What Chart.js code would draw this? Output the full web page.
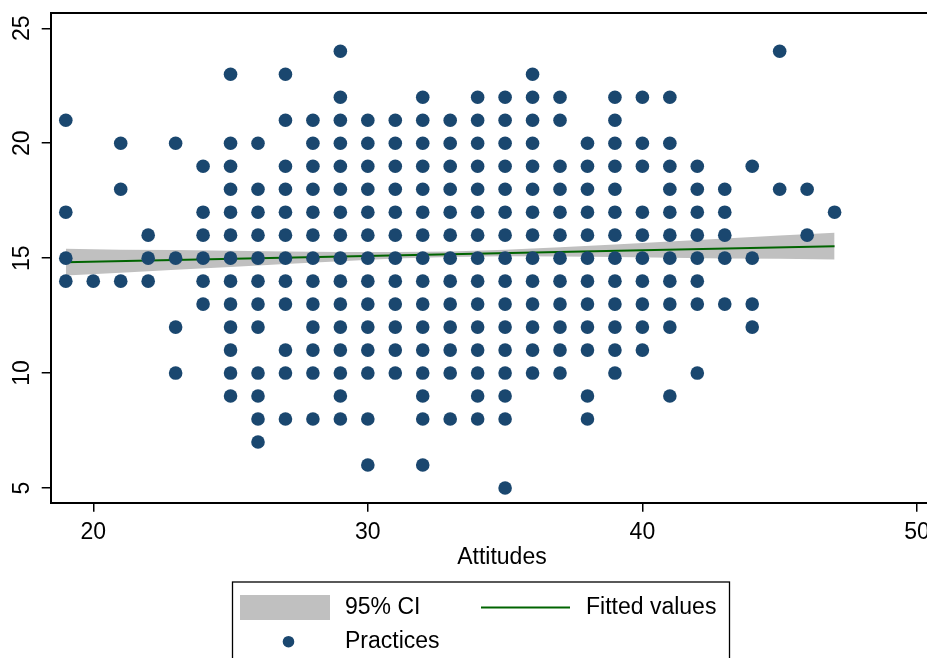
<!DOCTYPE html>
<html>
<head>
<meta charset="utf-8">
<script src="https://cdn.jsdelivr.net/npm/chart.js@4.4.1/dist/chart.umd.min.js"></script>
<style>
  html, body { margin: 0; padding: 0; background: #fff; overflow: hidden; }
  #wrap { position: relative; width: 960px; height: 658px; }
</style>
</head>
<body>
<div id="wrap"><canvas id="chart"></canvas></div>
<script>
// Attitudes (x) and the Practices scores seen at each one
const attitudeLevels = [19, 20, 21, 22, 23, 24, 25, 26, 27, 28, 29, 30, 31, 32, 33, 34, 35, 36, 37, 38, 39, 40, 41, 42, 43, 44, 45, 46, 47];
const practicesByAttitude = [
  [21, 17, 15, 14],
  [14],
  [20, 18, 14],
  [16, 15, 14],
  [20, 15, 12, 10],
  [19, 17, 16, 15, 14, 13],
  [23, 20, 19, 18, 17, 16, 15, 14, 13, 12, 11, 10, 9],
  [20, 18, 17, 16, 15, 14, 13, 12, 10, 9, 8, 7],
  [23, 21, 19, 18, 17, 16, 15, 14, 13, 11, 10, 8],
  [21, 20, 19, 18, 17, 16, 15, 14, 13, 12, 11, 10, 8],
  [24, 22, 21, 20, 19, 18, 17, 16, 15, 14, 13, 12, 11, 10, 9, 8],
  [21, 20, 19, 18, 17, 16, 15, 14, 13, 12, 11, 10, 8, 6],
  [21, 20, 19, 18, 17, 16, 15, 14, 13, 12, 11, 10],
  [22, 21, 20, 19, 18, 17, 16, 15, 14, 13, 12, 11, 10, 9, 8, 6],
  [21, 20, 19, 18, 17, 16, 15, 14, 13, 12, 11, 10, 8],
  [22, 21, 20, 19, 18, 17, 16, 15, 14, 13, 12, 11, 10, 9, 8],
  [22, 21, 20, 19, 18, 17, 16, 15, 14, 13, 12, 11, 10, 9, 8, 5],
  [23, 22, 21, 20, 19, 18, 17, 16, 15, 14, 13, 12, 11, 10],
  [22, 21, 19, 18, 17, 16, 15, 14, 13, 12, 11, 10],
  [20, 19, 18, 17, 16, 15, 14, 13, 12, 11, 9, 8],
  [22, 21, 20, 19, 18, 17, 16, 15, 14, 13, 12, 11, 10],
  [22, 20, 19, 17, 16, 15, 14, 13, 12, 11],
  [22, 20, 19, 18, 17, 16, 15, 14, 13, 12, 9],
  [19, 18, 17, 16, 15, 14, 13, 10],
  [18, 17, 16, 15, 13],
  [19, 15, 13, 12],
  [24, 18],
  [18, 16],
  [17]
];

// Fitted line and its 95% CI band
const fitX = [19, 47];
const fitY = [14.82, 15.52];
const ciX = [19, 21, 23, 25, 27, 29, 31, 33, 35, 37, 39, 41, 43, 45, 47];
const ciUpper = [15.41, 15.37, 15.35, 15.32, 15.29, 15.27, 15.27, 15.29, 15.37, 15.47, 15.59, 15.72, 15.85, 15.98, 16.11];
const ciLower = [14.24, 14.37, 14.49, 14.62, 14.75, 14.87, 14.98, 15.05, 15.08, 15.07, 15.05, 15.02, 14.99, 14.97, 14.94];

const xTicks = [20, 30, 40, 50];
const yTicks = [5, 10, 15, 20, 25];

const FONT = '"Liberation Sans", Arial, sans-serif';
const NAVY = '#1a476f';
const GREEN = '#006400';
const BAND = '#c0c0c0';

let practicePoints = [];
attitudeLevels.forEach((a, i) => {
  practicesByAttitude[i].forEach((p) => practicePoints.push({ x: a, y: p }));
});

const toPoints = (xs, ys) => xs.map((x, i) => ({ x: x, y: ys[i] }));

// cadre du graphique + légende style Stata
const frameAndLegend = {
  id: 'frameAndLegend',
  afterDraw: (chart) => {
    const ctx = chart.ctx;
    const area = chart.chartArea;
    const ds = chart.data.datasets;
    ctx.save();
    ctx.strokeStyle = '#000';
    ctx.lineWidth = 2;
    ctx.beginPath();
    ctx.moveTo(area.left, area.top);
    ctx.lineTo(area.right, area.top);
    ctx.lineTo(area.right, area.bottom);
    ctx.stroke();

    // legend box
    ctx.lineWidth = 1.3;
    ctx.strokeRect(232.5, 582, 497, 110);

    ctx.fillStyle = BAND;
    ctx.fillRect(240, 595, 90, 25);

    ctx.strokeStyle = GREEN;
    ctx.lineWidth = 2;
    ctx.beginPath();
    ctx.moveTo(481, 607.5);
    ctx.lineTo(570, 607.5);
    ctx.stroke();

    ctx.fillStyle = NAVY;
    ctx.beginPath();
    ctx.arc(288.5, 641.7, 5.8, 0, Math.PI * 2);
    ctx.fill();

    ctx.fillStyle = '#000';
    ctx.font = '23px ' + FONT;
    ctx.textBaseline = 'middle';
    ctx.textAlign = 'left';
    ctx.fillText(ds[0].label, 345, 607.5);
    ctx.fillText(ds[2].label, 586, 607.5);
    ctx.fillText(ds[3].label, 345, 642);
    ctx.restore();
  }
};

new Chart(document.getElementById('chart').getContext('2d'), {
  type: 'scatter',
  data: {
    datasets: [{
      label: '95% CI',
      data: toPoints(ciX, ciUpper),
      showLine: true,
      pointRadius: 0,
      borderWidth: 0,
      borderColor: 'rgba(0,0,0,0)',
      backgroundColor: BAND,
      fill: '+1',
      order: 4
    }, {
      label: '',
      data: toPoints(ciX, ciLower),
      showLine: true,
      pointRadius: 0,
      borderWidth: 0,
      borderColor: 'rgba(0,0,0,0)',
      fill: false,
      order: 3
    }, {
      label: 'Fitted values',
      data: toPoints(fitX, fitY),
      showLine: true,
      pointRadius: 0,
      borderColor: GREEN,
      borderWidth: 2,
      fill: false,
      order: 2
    }, {
      label: 'Practices',
      data: practicePoints,
      pointRadius: 6.8,
      pointBackgroundColor: NAVY,
      pointBorderWidth: 0,
      order: 1
    }]
  },
  options: {
    responsive: true,
    maintainAspectRatio: false,
    animation: false,
    events: [],
    layout: { padding: { top: 13, bottom: 86.1, left: 0, right: 0 } },
    plugins: {
      legend: { display: false },
      tooltip: { enabled: false }
    },
    scales: {
      x: {
        type: 'linear',
        min: 18.45,
        max: 51.32,
        afterBuildTicks: (s) => { s.ticks = xTicks.map((v) => ({ value: v })); },
        afterFit: (s) => { s.height = 69.2; s.paddingLeft = 0; s.paddingRight = 0; },
        ticks: { color: '#000', font: { family: FONT, size: 23 }, padding: 7, maxRotation: 0 },
        grid: { display: true, drawOnChartArea: false, drawTicks: true, tickLength: 9, color: '#000', lineWidth: 1.5 },
        border: { display: true, color: '#000', width: 2 },
        title: { display: true, text: 'Attitudes', color: '#000', font: { family: FONT, size: 23 }, padding: { top: 0, bottom: 0 } }
      },
      y: {
        type: 'linear',
        min: 4.36,
        max: 25.666,
        afterBuildTicks: (s) => { s.ticks = yTicks.map((v) => ({ value: v })); },
        afterFit: (s) => { s.width = 50.7; s.paddingTop = 0; s.paddingBottom = 0; },
        ticks: { color: '#000', font: { family: FONT, size: 23 }, padding: 6, minRotation: 90, maxRotation: 90, crossAlign: 'center' },
        grid: { display: true, drawOnChartArea: false, drawTicks: true, tickLength: 9, color: '#000', lineWidth: 1.5 },
        border: { display: true, color: '#000', width: 2 }
      }
    }
  },
  plugins: [frameAndLegend]
});
</script>
</body>
</html>
